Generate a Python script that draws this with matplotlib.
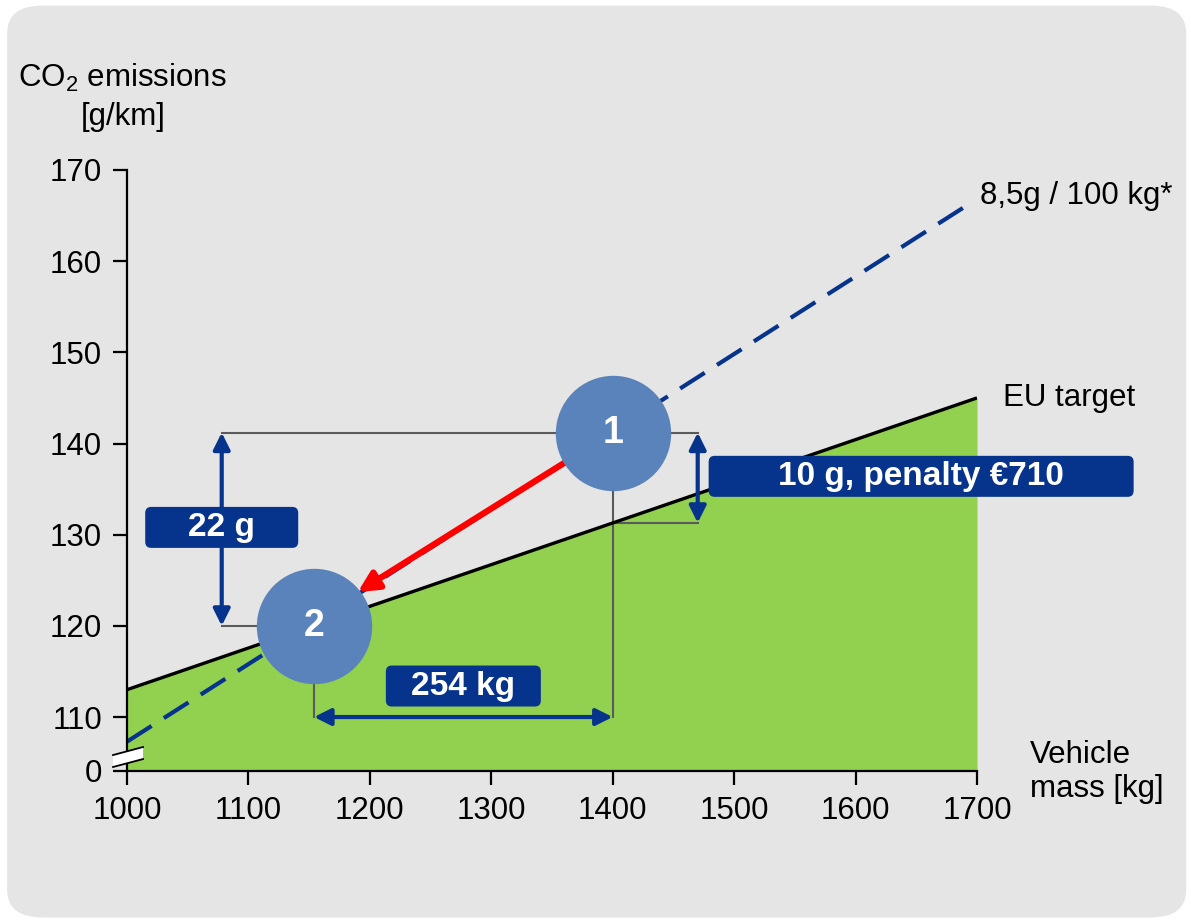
import matplotlib.pyplot as plt
from matplotlib.patches import FancyBboxPatch, Polygon
from matplotlib.transforms import IdentityTransform

plt.rcParams['font.family'] = ['Liberation Sans', 'DejaVu Sans']
plt.rcParams['mathtext.fontset'] = 'custom'
plt.rcParams['mathtext.rm'] = 'Liberation Sans'

# data
mass = [1000, 1700]
eu_target = [113, 145]
trend_mass = [1000, 1695]
trend_co2 = [107.3, 166.4]
car_mass = [1400, 1154]
car_co2 = [141.2, 120.0]
car_names = ['1', '2']
target_at_1400 = 131.3
x_ticks = [1000, 1100, 1200, 1300, 1400, 1500, 1600, 1700]
y_ticks = [110, 120, 130, 140, 150, 160, 170]
y_bottom = 104.08

blue = '#06338b'
grey = '#5a5a5a'
green = '#92d050'
circle = '#5b83bb'
fs = 22.5

fig = plt.figure(figsize=(11.91, 9.23), dpi=100)
fig.patch.set_facecolor('white')
bg = FancyBboxPatch((0.006, 0.006), 0.99, 0.988, boxstyle='round,pad=0,rounding_size=0.03',
                    transform=fig.transFigure, facecolor='#e5e5e5', edgecolor='none', zorder=-10)
fig.patches.append(bg)

ax = fig.add_axes([127/1191, 1 - 771/923, 850/1191, 601/923])
ax.set_facecolor('none')
ax.set_xlim(1000, 1700)
ax.set_ylim(y_bottom, 170)

# green area and EU target
ax.fill_between(mass, eu_target, y_bottom, color=green, lw=0, zorder=1)
ax.plot(mass, eu_target, color='black', lw=2.4, zorder=3, solid_capstyle='butt')

# 8.5 g / 100 kg line
ax.plot(trend_mass, trend_co2, color=blue, lw=3, dashes=(7, 3.5), zorder=3)

# helper grey lines
gl = dict(color=grey, lw=1.5, zorder=2)
ax.plot([1078, 1470], [car_co2[0]] * 2, **gl)
ax.plot([1078, car_mass[1]], [car_co2[1]] * 2, **gl)
ax.plot([car_mass[0]] * 2, [car_co2[0], 110], **gl)
ax.plot([car_mass[1]] * 2, [car_co2[1], 110], **gl)
ax.plot([car_mass[0], 1470], [target_at_1400] * 2, **gl)

# double arrows
ap = dict(arrowstyle='<|-|>', color=blue, lw=3, mutation_scale=25, shrinkA=0, shrinkB=0)
ax.annotate('', xy=(1078, car_co2[0]), xytext=(1078, car_co2[1]), arrowprops=ap, zorder=4)
ax.annotate('', xy=(1470, car_co2[0]), xytext=(1470, target_at_1400), arrowprops=ap, zorder=4)
ax.annotate('', xy=(car_mass[1], 110), xytext=(car_mass[0], 110), arrowprops=ap, zorder=4)

# red arrow from car 1 to car 2
ax.annotate('', xy=(1190, 123.7), xytext=(car_mass[0], car_co2[0]),
            arrowprops=dict(arrowstyle='-|>', color='#ff0000', lw=4.5, mutation_scale=30,
                            shrinkA=0, shrinkB=0), zorder=4)

# circles
ax.scatter(car_mass, car_co2, s=6900, color=circle, zorder=6, clip_on=False, linewidths=0)
for m, c, n in zip(car_mass, car_co2, car_names):
    ax.text(m, c, n, color='white', fontsize=27, fontweight='bold', ha='center', va='center', zorder=7)

# label boxes
fig.canvas.draw()
labels = [('22 g', 1078, 130.8, 153), ('10 g, penalty €710', 1654, 136.4, 425), ('254 kg', 1277, 113.4, 155)]
for txt, x, y, w in labels:
    cx, cy = ax.transData.transform((x, y))
    box = FancyBboxPatch((cx - w / 2, cy - 20.5), w, 41, boxstyle='round,pad=0,rounding_size=6',
                         transform=IdentityTransform(), facecolor=blue, edgecolor='none', zorder=8, clip_on=False)
    ax.add_artist(box)
    ax.text(x, y, txt, color='white', fontsize=24, fontweight='bold', ha='center', va='center',
            zorder=9, clip_on=False)

# axes styling
for s in ['top', 'right']:
    ax.spines[s].set_visible(False)
for s in ['left', 'bottom']:
    ax.spines[s].set_linewidth(1.6)
    ax.spines[s].set_zorder(5)
ax.set_xticks(x_ticks)
ax.set_yticks([y_bottom] + y_ticks)
ax.set_yticklabels(['0'] + [str(v) for v in y_ticks])
ax.tick_params(axis='both', labelsize=fs, width=1.6, length=10, direction='out')
ax.tick_params(axis='x', pad=8)
ax.tick_params(axis='y', pad=8)

# axis break: white band with two slanted edges
bx = [988.5, 1013.2]
top = [105.83, 106.71]
bot = [104.52, 105.39]
ax.add_patch(Polygon([(bx[0], bot[0]), (bx[1], bot[1]), (bx[1], top[1]), (bx[0], top[0])],
                     closed=True, facecolor='white', edgecolor='none', zorder=10, clip_on=False))
ax.plot(bx, top, color='black', lw=1.3, zorder=11, clip_on=False)
ax.plot(bx, bot, color='black', lw=1.3, zorder=11, clip_on=False)

# texts
fig.text(18 / 1191, 1 - 78 / 923, 'CO$_2$ emissions', fontsize=fs, ha='left', va='center')
fig.text(123 / 1191, 1 - 117 / 923, '[g/km]', fontsize=fs, ha='center', va='center')
fig.text(980 / 1191, 1 - 196 / 923, '8,5g / 100 kg*', fontsize=fs, ha='left', va='center')
fig.text(1003 / 1191, 1 - 398 / 923, 'EU target', fontsize=fs, ha='left', va='center')
fig.text(1030 / 1191, 1 - 772 / 923, 'Vehicle\nmass [kg]', fontsize=fs, ha='left', va='center',
         linespacing=1.15)

fig.savefig('out.png', dpi=100)
